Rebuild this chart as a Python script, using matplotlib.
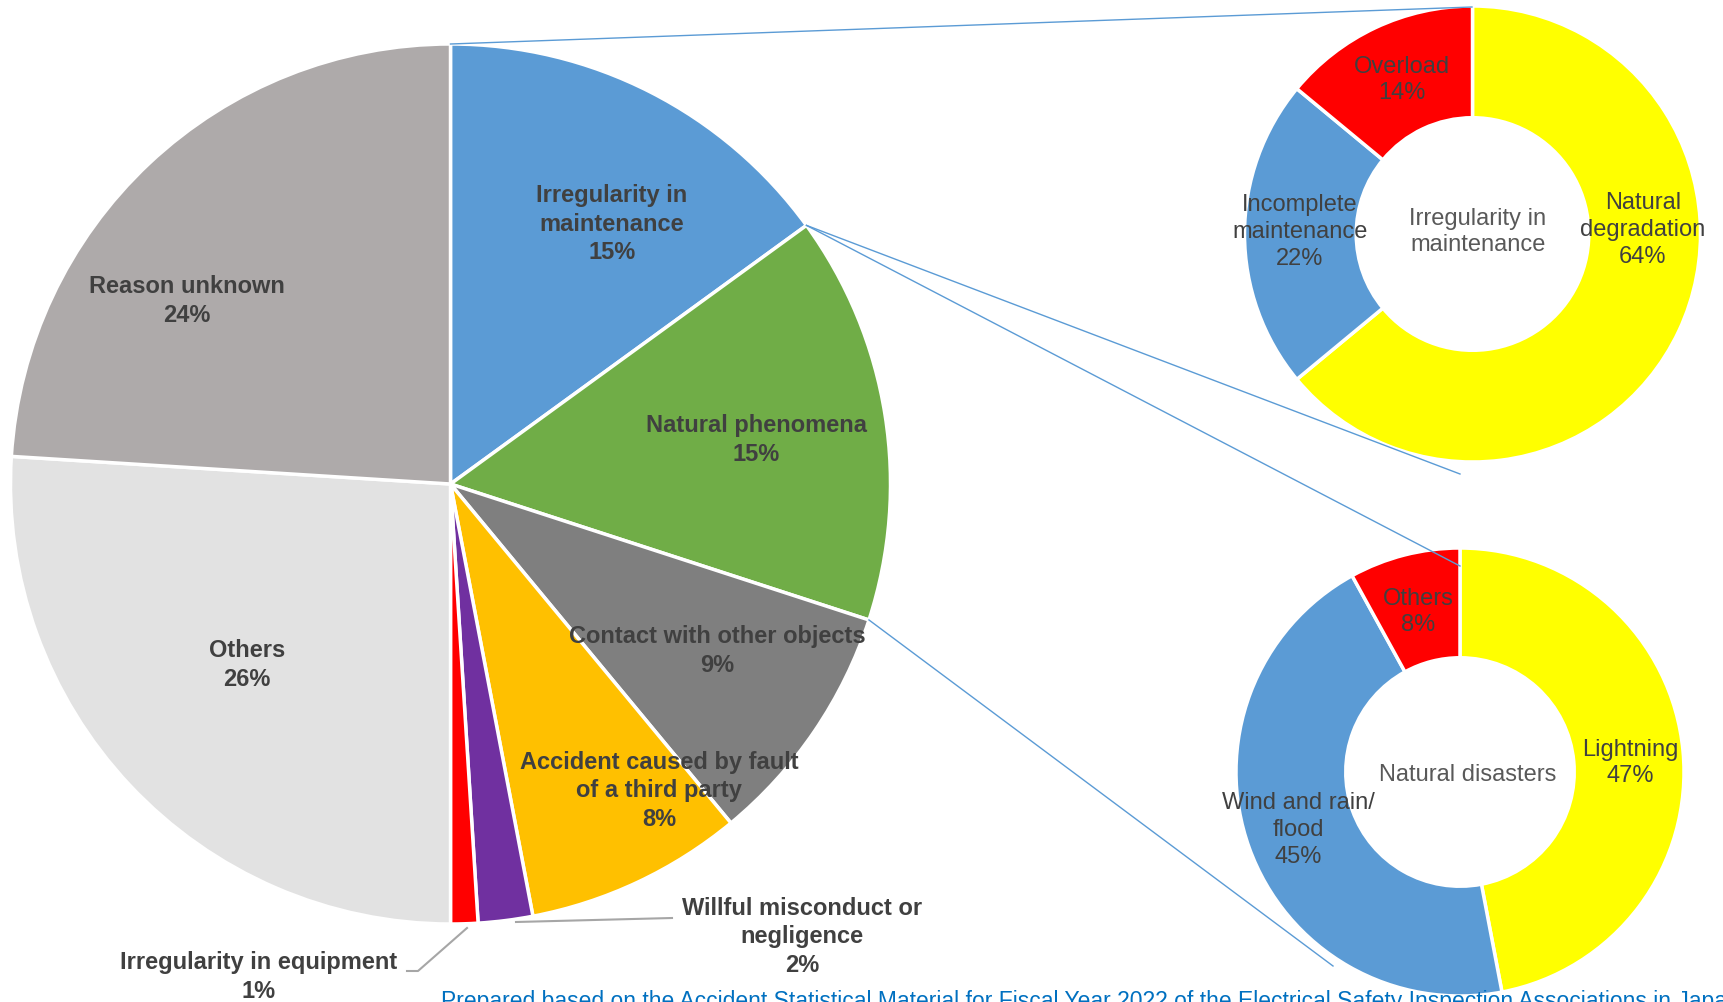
import numpy as np
import matplotlib
matplotlib.use('Agg')
import matplotlib.pyplot as plt

plt.rcParams['font.family'] = ['Liberation Sans', 'DejaVu Sans']

# Causes of accidents (main pie), percent
causes = ['Irregularity in\nmaintenance', 'Natural phenomena', 'Contact with other objects',
          'Accident caused by fault\nof a third party', 'Willful misconduct or\nnegligence',
          'Irregularity in equipment', 'Others', 'Reason unknown']
shares = [15, 15, 9, 8, 2, 1, 26, 24]
cause_colors = ['#5B9BD5', '#70AD47', '#7F7F7F', '#FFC000', '#7030A0', '#FF0000', '#E2E2E2', '#AEAAAA']

# Breakdown of "Irregularity in maintenance"
maint_names = ['Natural\ndegradation', 'Incomplete\nmaintenance', 'Overload']
maint_shares = [64, 22, 14]

# Breakdown of natural disasters
nat_names = ['Lightning', 'Wind and rain/\nflood', 'Others']
nat_shares = [47, 45, 8]
sub_colors = ['#FFFF00', '#5B9BD5', '#FF0000']

W, H = 1723, 1003
fig = plt.figure(figsize=(W / 100, H / 100), dpi=100)
ax = fig.add_axes([0, 0, 1, 1])

def Y(y):
    # pixel row -> data y (origin at bottom)
    return H - y

dark = '#404040'
ls = 1.28

# main pie
cx, cy, R = 450.5, Y(485), 440
wedges, _ = ax.pie(shares, colors=cause_colors, startangle=90, counterclock=False,
                   center=(cx, cy), radius=R,
                   wedgeprops=dict(edgecolor='white', linewidth=2.5))

main_pos = [(612, 224), (756, 440), (717, 651), (659, 791),
            (802, 937), (259, 977), (247, 665), (187, 301)]
for name, v, (px, py) in zip(causes, shares, main_pos):
    ax.text(px, Y(py), f'{name}\n{v}%', ha='center', va='center', fontsize=17,
            fontweight='bold', color=dark, linespacing=ls)

# leader lines for the two thin slices
lead = '#A6A6A6'
ax.plot([516, 672], [Y(923), Y(919)], color=lead, lw=1.5)
ax.plot([467, 418, 407], [Y(929), Y(972), Y(972)], color=lead, lw=1.5)

# doughnuts
d1x, d1y, R1 = 1472.5, Y(235), 228
ax.pie(maint_shares, colors=sub_colors, startangle=90, counterclock=False,
       center=(d1x, d1y), radius=R1,
       wedgeprops=dict(width=R1 * 0.49, edgecolor='white', linewidth=2.5))
d2x, d2y, R2 = 1460, Y(773), 224
ax.pie(nat_shares, colors=sub_colors, startangle=90, counterclock=False,
       center=(d2x, d2y), radius=R2,
       wedgeprops=dict(width=R2 * 0.49, edgecolor='white', linewidth=2.5))

maint_pos = [(1643, 230), (1300, 232), (1402, 80)]
for name, v, (px, py) in zip(maint_names, maint_shares, maint_pos):
    ax.text(px, Y(py), f'{name}\n{v}%', ha='center', va='center', fontsize=17,
            color=dark, linespacing=ls)
nat_pos = [(1630, 763), (1298, 830), (1418, 612)]
for name, v, (px, py) in zip(nat_names, nat_shares, nat_pos):
    ax.text(px, Y(py), f'{name}\n{v}%', ha='center', va='center', fontsize=17,
            color=dark, linespacing=ls)

ax.text(1478, Y(232), 'Irregularity in\nmaintenance', ha='center', va='center',
        fontsize=17, color='#595959', linespacing=ls)
ax.text(1468, Y(775), 'Natural disasters', ha='center', va='center',
        fontsize=17, color='#595959')

# connector lines from the pie to the breakdowns
blue = '#5B9BD5'
t = np.radians(wedges[0].theta1)
ex, ey = cx + R * np.cos(t), cy + R * np.sin(t)
t2 = np.radians(wedges[1].theta1)
fx, fy = cx + R * np.cos(t2), cy + R * np.sin(t2)
ax.plot([cx, 1472], [cy + R, Y(8)], color=blue, lw=1)
ax.plot([ex, 1460], [ey, Y(475)], color=blue, lw=1)
ax.plot([ex, 1460], [ey, Y(567)], color=blue, lw=1)
ax.plot([fx, 1333], [fy, Y(967)], color=blue, lw=1)

ax.text(441, Y(990), 'Prepared based on the Accident Statistical Material for Fiscal Year 2022 '
        'of the Electrical Safety Inspection Associations in Japan',
        ha='left', va='top', fontsize=16.5, color='#0070C0')

ax.set_xlim(0, W)
ax.set_ylim(0, H)
ax.set_aspect('equal')
ax.set_axis_off()

fig.savefig('out.png', dpi=100)
